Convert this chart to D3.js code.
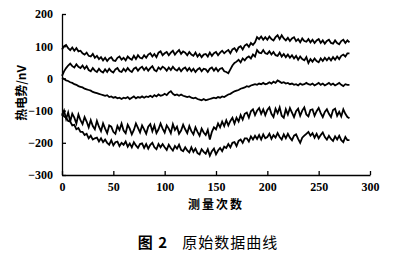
<!DOCTYPE html>
<html>
<head>
<meta charset="utf-8">
<script src="https://cdn.jsdelivr.net/npm/d3@7"></script>
<style>
  body { margin: 0; background: #fff; }
  svg { display: block; }
</style>
</head>
<body>
<div id="chart"></div>
<script>
// measurement index (every 2nd sample)
var counts = d3.range(0, 281, 2);

// five raw thermo-EMF curves, nV (one row = 20 measurements)
var curveA = [90, 100, 104, 94, 88, 96, 86, 94, 84, 86,
  78, 74, 80, 70, 68, 76, 64, 70, 60, 66,
  56, 64, 54, 62, 66, 56, 54, 64, 68, 58,
  64, 56, 68, 62, 58, 70, 60, 72, 64, 62,
  72, 64, 74, 78, 68, 76, 66, 80, 84, 72,
  78, 82, 72, 80, 86, 74, 82, 88, 76, 84,
  80, 72, 82, 74, 70, 80, 68, 76, 66, 74,
  76, 68, 80, 70, 78, 82, 72, 80, 86, 78,
  84, 88, 78, 90, 94, 84, 96, 100, 90, 102,
  106, 98, 110, 104, 112, 128, 122, 130, 120, 128,
  120, 130, 122, 118, 128, 134, 122, 134, 124, 118,
  126, 116, 124, 128, 116, 122, 112, 124, 116, 114,
  122, 112, 120, 110, 118, 122, 110, 118, 108, 116,
  120, 110, 108, 118, 110, 106, 116, 120, 110, 118,
  112];
var curveB = [8, 22, 32, 40, 46, 38, 34, 44, 36, 32,
  40, 30, 38, 26, 22, 32, 24, 20, 30, 22,
  18, 28, 20, 30, 22, 18, 28, 32, 22, 20,
  30, 22, 32, 24, 20, 30, 34, 24, 32, 36,
  26, 34, 24, 32, 38, 26, 22, 34, 28, 36,
  32, 24, 34, 26, 36, 28, 24, 32, 22, 30,
  34, 24, 32, 22, 30, 20, 28, 32, 22, 30,
  28, 20, 30, 34, 24, 32, 22, 30, 32, 22,
  20, 16, 28, 40, 48, 52, 58, 50, 62, 56,
  64, 68, 62, 74, 68, 88, 80, 78, 88, 78,
  76, 84, 74, 82, 72, 70, 80, 68, 76, 66,
  74, 64, 72, 62, 70, 58, 68, 60, 56, 66,
  48, 60, 52, 62, 54, 50, 62, 54, 64, 56,
  64, 56, 66, 58, 68, 60, 70, 74, 68, 78,
  78];
var curveC = [2, -2, -6, -8, -12, -14, -18, -20, -24, -26,
  -28, -32, -34, -36, -38, -42, -44, -46, -48, -50,
  -52, -54, -52, -58, -56, -60, -58, -62, -60, -64,
  -60, -62, -58, -64, -60, -56, -62, -58, -60, -56,
  -60, -56, -58, -54, -58, -52, -56, -50, -54, -52,
  -48, -52, -44, -40, -48, -52, -50, -54, -50, -54,
  -56, -58, -56, -60, -62, -60, -64, -66, -68, -64,
  -68, -66, -64, -62, -60, -62, -58, -60, -56, -58,
  -54, -50, -48, -44, -40, -38, -36, -32, -30, -28,
  -24, -26, -22, -20, -18, -20, -16, -18, -14, -18,
  -16, -12, -16, -10, -14, -6, -10, -14, -12, -16,
  -14, -18, -16, -20, -18, -22, -16, -20, -18, -14,
  -18, -20, -16, -22, -18, -14, -20, -16, -22, -18,
  -14, -20, -16, -22, -18, -14, -20, -24, -18, -20,
  -20];
var curveD = [-116, -100, -126, -106, -134, -110, -122, -140, -112, -130,
  -142, -120, -134, -152, -130, -148, -158, -132, -150, -164,
  -140, -156, -170, -146, -150, -166, -172, -148, -160, -140,
  -162, -170, -144, -156, -174, -160, -140, -154, -168, -146,
  -158, -172, -150, -142, -164, -146, -170, -158, -140, -156,
  -168, -146, -156, -170, -142, -160, -150, -172, -162, -144,
  -158, -170, -148, -164, -174, -152, -166, -178, -156, -168,
  -176, -160, -190, -166, -152, -158, -140, -152, -134, -148,
  -130, -146, -132, -122, -140, -122, -134, -114, -128, -110,
  -106, -122, -102, -96, -114, -100, -92, -110, -96, -114,
  -98, -90, -110, -120, -94, -108, -90, -116, -122, -96,
  -112, -92, -106, -120, -102, -94, -116, -100, -90, -112,
  -118, -98, -96, -116, -102, -92, -108, -120, -104, -96,
  -110, -120, -98, -94, -116, -104, -118, -96, -110, -120,
  -124];
var curveE = [-108, -118, -122, -132, -134, -146, -144, -158, -154, -166,
  -166, -176, -172, -186, -178, -190, -186, -184, -196, -186,
  -198, -190, -200, -206, -192, -208, -198, -196, -210, -200,
  -206, -196, -212, -202, -214, -198, -208, -216, -204, -202,
  -216, -204, -218, -206, -200, -214, -220, -204, -214, -204,
  -214, -222, -206, -216, -224, -210, -218, -206, -222, -226,
  -214, -224, -230, -214, -228, -218, -232, -236, -220, -228,
  -234, -220, -240, -226, -218, -236, -224, -216, -226, -212,
  -216, -204, -214, -200, -198, -210, -194, -190, -200, -186,
  -186, -196, -180, -190, -178, -188, -176, -190, -174, -186,
  -182, -172, -188, -176, -184, -170, -182, -190, -174, -186,
  -172, -184, -192, -178, -174, -188, -200, -184, -178, -172,
  -166, -178, -170, -184, -172, -186, -176, -168, -182, -190,
  -178, -188, -194, -180, -190, -178, -192, -198, -182, -192,
  -192];

var xTicks = [0, 50, 100, 150, 200, 250, 300];
var yTicks = [-300, -200, -100, 0, 100, 200];

var width = 406, height = 256;
var margin = { top: 14, right: 36, bottom: 81, left: 62 };

var svg = d3.select("#chart").append("svg")
  .attr("width", width)
  .attr("height", height);

var x = d3.scaleLinear().domain([0, 300]).range([margin.left, width - margin.right]);
var y = d3.scaleLinear().domain([-300, 200]).range([height - margin.bottom, margin.top]);

// axes, ticks point inward like the printed figure
var xAxis = svg.append("g")
  .attr("transform", "translate(0," + y(-300) + ")")
  .call(d3.axisBottom(x).tickValues(xTicks).tickSizeInner(-4).tickSizeOuter(0).tickPadding(7));
var yAxis = svg.append("g")
  .attr("transform", "translate(" + x(0) + ",0)")
  .call(d3.axisLeft(y).tickValues(yTicks).tickSizeInner(-4).tickSizeOuter(0).tickPadding(9));

[xAxis, yAxis].forEach(function (g) {
  g.selectAll("path, line").attr("stroke", "#000").attr("stroke-width", 1.3);
  g.selectAll("text")
    .attr("fill", "#000")
    .style("font-family", "'Liberation Serif', serif")
    .style("font-weight", "bold")
    .style("font-size", "12px");
});

// curves
var line = d3.line()
  .x(function (d, i) { return x(counts[i]); })
  .y(function (d) { return y(d); });

[curveA, curveB, curveC, curveD, curveE].forEach(function (c) {
  svg.append("path")
    .datum(c)
    .attr("d", line)
    .attr("fill", "none")
    .attr("stroke", "#000")
    .attr("stroke-width", 1.8);
});

// axis titles
svg.append("text")
  .attr("x", x(150))
  .attr("y", 209)
  .attr("text-anchor", "middle")
  .style("font-family", "'Noto Sans CJK SC', sans-serif")
  .style("font-weight", "bold")
  .style("font-size", "12px")
  .style("letter-spacing", "2px")
  .text("测量次数");

svg.append("text")
  .attr("transform", "translate(26,93) rotate(-90)")
  .attr("text-anchor", "middle")
  .style("font-family", "'Noto Sans CJK SC', sans-serif")
  .style("font-weight", "bold")
  .style("font-size", "12px")
  .text("热电势/nV");

// figure caption
var cap = svg.append("text")
  .attr("x", 208)
  .attr("y", 248)
  .attr("text-anchor", "middle")
  .style("font-family", "'Noto Sans CJK SC', sans-serif")
  .style("font-size", "15px")
  .style("letter-spacing", "1px");
cap.append("tspan").style("font-weight", "bold").text("图 2");
cap.append("tspan").attr("dx", 14).text("原始数据曲线");
</script>
</body>
</html>
